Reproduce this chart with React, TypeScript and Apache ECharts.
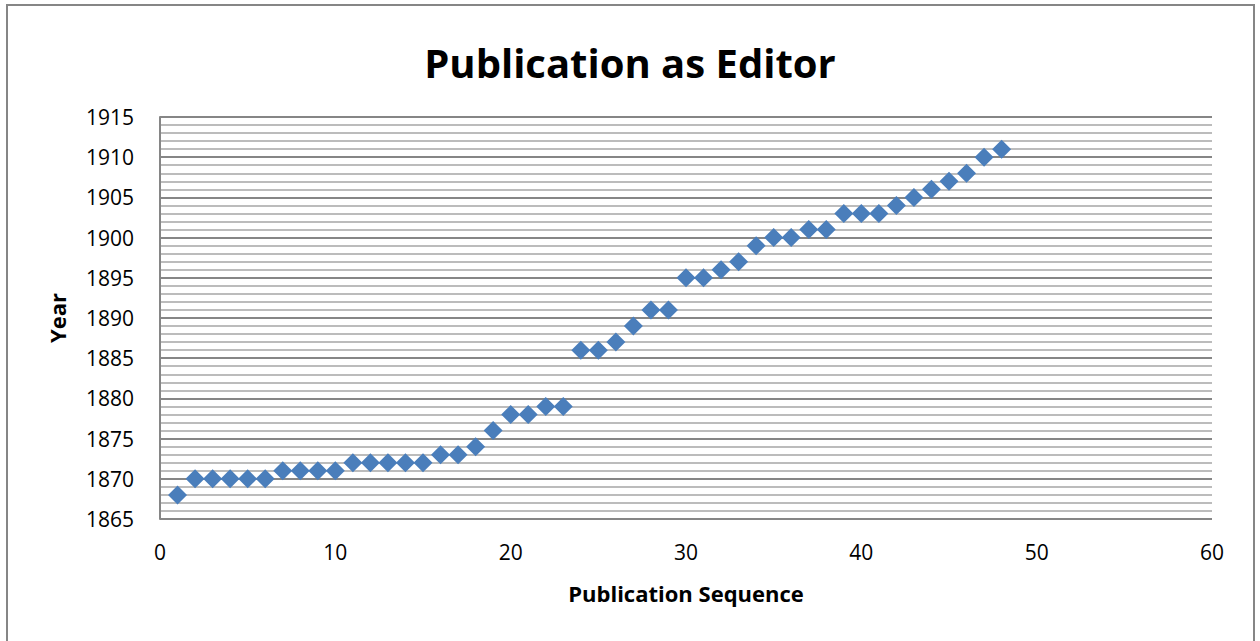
import React, { useEffect, useRef } from "react";
import * as echarts from "echarts";

const sequence: number[] = [
  1, 2, 3, 4, 5, 6, 7, 8, 9, 10, 11, 12, 13, 14, 15, 16, 17, 18, 19, 20, 21, 22, 23, 24,
  25, 26, 27, 28, 29, 30, 31, 32, 33, 34, 35, 36, 37, 38, 39, 40, 41, 42, 43, 44, 45, 46, 47, 48,
];
const years: number[] = [
  1868, 1870, 1870, 1870, 1870, 1870, 1871, 1871, 1871, 1871, 1872, 1872, 1872, 1872, 1872, 1873,
  1873, 1874, 1876, 1878, 1878, 1879, 1879, 1886, 1886, 1887, 1889, 1891, 1891, 1895, 1895, 1896,
  1897, 1899, 1900, 1900, 1901, 1901, 1903, 1903, 1903, 1904, 1905, 1906, 1907, 1908, 1910, 1911,
];

const titleText = "Publication as Editor";
const xAxisTitle = "Publication Sequence";
const yAxisTitle = "Year";

export default function App() {
  const ref = useRef<HTMLDivElement>(null);
  useEffect(() => {
    if (!ref.current) return;
    const chart = echarts.init(ref.current, undefined, { renderer: "svg" });
    const font = "'Open Sans', 'Liberation Sans', sans-serif";
    chart.setOption({
      animation: false,
      backgroundColor: "#ffffff",
      textStyle: { fontFamily: font },
      title: {
        text: titleText,
        left: "center",
        top: 37,
        textStyle: { fontFamily: font, fontSize: 40, fontWeight: "bold", color: "#000" },
      },
      graphic: [
        {
          type: "rect",
          shape: { x: 7, y: 5, width: 1247, height: 700 },
          style: { fill: "none", stroke: "#868686", lineWidth: 2 },
          silent: true,
        },
      ],
      grid: { left: 160, right: 48, top: 117, bottom: 122, containLabel: false },
      xAxis: {
        type: "value",
        min: 0,
        max: 60,
        interval: 10,
        name: xAxisTitle,
        nameLocation: "middle",
        nameGap: 63,
        nameTextStyle: { fontFamily: font, fontSize: 22, fontWeight: "bold", color: "#000" },
        axisLine: { show: false },
        axisTick: { show: false },
        splitLine: { show: false },
        axisLabel: { fontFamily: font, fontSize: 21, color: "#000", margin: 22 },
      },
      yAxis: {
        type: "value",
        min: 1865,
        max: 1915,
        interval: 5,
        name: yAxisTitle,
        nameLocation: "middle",
        nameGap: 92,
        nameTextStyle: { fontFamily: font, fontSize: 22, fontWeight: "bold", color: "#000" },
        axisLine: { show: true, lineStyle: { color: "#868686", width: 2 } },
        axisTick: { show: false },
        axisLabel: {
          fontFamily: font,
          fontSize: 21,
          color: "#000",
          margin: 26,
          formatter: (v: number) => String(v),
        },
        splitLine: { show: true, lineStyle: { color: "#868686", width: 2 } },
        minorTick: { show: false, splitNumber: 5 },
        minorSplitLine: { show: true, lineStyle: { color: "#bcbcbc", width: 2 } },
      },
      series: [
        {
          type: "scatter",
          symbol: "diamond",
          symbolSize: [19, 19],
          itemStyle: { color: "#4a7ebb", opacity: 1 },
          data: sequence.map((s, i) => [s, years[i]]),
        },
      ],
    });
    return () => chart.dispose();
  }, []);
  return (
    <div
      ref={ref}
      style={{ position: "absolute", left: 0, top: 0, width: 1260, height: 641 }}
    />
  );
}
